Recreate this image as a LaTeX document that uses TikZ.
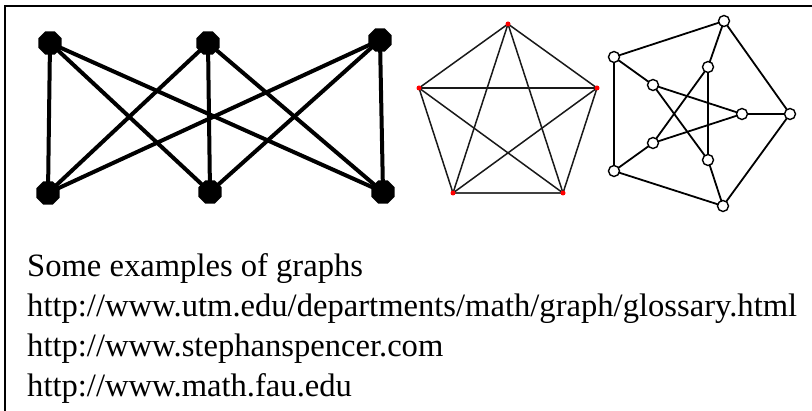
\documentclass[tikz,border=0pt]{standalone}
\usepackage{fontspec}
\setmainfont{Liberation Serif}
\usetikzlibrary{shapes.geometric}
\begin{document}
\begin{tikzpicture}[x=1pt,y=-1pt,
  bignode/.style={regular polygon,regular polygon sides=8,fill=black,inner sep=0pt,minimum size=25pt},
  bigedge/.style={line width=4pt,black},
  reddot/.style={circle,fill=red,inner sep=0pt,minimum size=5pt},
  kedge/.style={line width=1.5pt,black!90},
  pnode/.style={circle,draw=black,fill=white,line width=1.4pt,inner sep=0pt,minimum size=11pt},
  pedge/.style={line width=1.8pt,black},
  caption/.style={anchor=base west,inner sep=0pt,font=\fontsize{32.6}{40}\selectfont}]
\useasboundingbox (0,0) rectangle (812,411);
\fill[white] (0,0) rectangle (812,411);
% frame
\coordinate (fr1) at (812,6);
\coordinate (fr0) at (5,6);
\coordinate (fr2) at (5,411);
\draw[line width=1.8pt] (fr1) -- (fr0) -- (fr2);
% K3,3
\node[bignode] (a1) at (50,43) {};
\node[bignode] (a2) at (208,43) {};
\node[bignode] (a3) at (380,40) {};
\node[bignode] (b1) at (48,193) {};
\node[bignode] (b2) at (210,192) {};
\node[bignode] (b3) at (383,192) {};
\foreach \u in {a1,a2,a3}{\foreach \v in {b1,b2,b3}{\draw[bigedge] (\u.center) -- (\v.center);}}
% K5
\coordinate (k1) at (508,24);
\coordinate (k2) at (597,88);
\coordinate (k3) at (563,193);
\coordinate (k4) at (453,193);
\coordinate (k5) at (419,88);
\foreach \u/\v in {k1/k2,k1/k3,k1/k4,k1/k5,k2/k3,k2/k4,k2/k5,k3/k5,k4/k5}{\draw[kedge] (\u) -- (\v);}
\draw[kedge,line width=2pt,black!75] (k3) -- (k4);
\foreach \n in {k1,k2,k3,k4,k5}{\node[reddot] (d\n) at (\n) {};}
% Petersen
\coordinate (o1) at (724,21);
\coordinate (o2) at (790,114);
\coordinate (o3) at (723,206);
\coordinate (o4) at (614,171);
\coordinate (o5) at (614,57);
\coordinate (i1) at (708,67);
\coordinate (i2) at (742,114);
\coordinate (i3) at (708,160);
\coordinate (i4) at (653,143);
\coordinate (i5) at (653,85);
\foreach \u/\v in {o1/o2,o2/o3,o3/o4,o4/o5,o5/o1,o1/i1,o2/i2,o3/i3,o4/i4,o5/i5,i1/i3,i1/i4,i2/i5,i2/i4,i3/i5}{\draw[pedge] (\u) -- (\v);}
\foreach \n in {o1,o2,o3,o4,o5,i1,i2,i3,i4,i5}{\node[pnode] (p\n) at (\n) {};}
% caption
\node[caption] (t1) at (27,277) {Some examples of graphs};
\node[caption] (t2) at (27,317) {http://www.utm.edu/departments/math/graph/glossary.html};
\node[caption] (t3) at (27,357) {http://www.stephanspencer.com};
\node[caption] (t4) at (27,397) {http://www.math.fau.edu};
\end{tikzpicture}
\end{document}
